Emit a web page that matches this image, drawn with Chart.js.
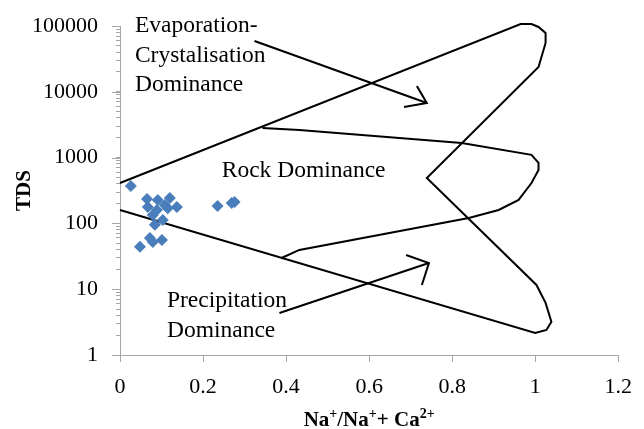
<!DOCTYPE html>
<html lang="en">
<head>
  <meta charset="UTF-8" />
  <title>Gibbs diagram - TDS vs Na/(Na+Ca)</title>
  <script src="https://cdn.jsdelivr.net/npm/chart.js@4/dist/chart.umd.min.js"></script>
  <style>
    body { margin: 0; background: #fff; }
    .chart-box { width: 644px; height: 429px; position: relative; }
  </style>
</head>
<body>
  <div class="chart-box">
    <canvas id="gibbsChart"></canvas>
  </div>

  <script>
    // sample values
    const ratio = [0.026, 0.065, 0.091, 0.120, 0.137, 0.067, 0.089, 0.079, 0.103, 0.084, 0.108, 0.115, 0.048, 0.072, 0.079, 0.101, 0.235, 0.269, 0.276];
    const tds   = [370, 235, 227, 243, 178, 178, 160, 134, 113, 95, 190, 170, 44, 60, 52, 56, 184, 204, 211];

    // Gibbs boundary (outer envelope)
    const outerX = [0, 0.965, 0.991, 1.008, 1.025, 1.025, 1.008, 0.739, 1.003, 1.025, 1.039, 1.027, 1.0, 0];
    const outerY = [411, 107000, 107000, 96600, 78300, 55200, 23800, 490, 11.6, 6.2, 3.2, 2.4, 2.16, 160];

    // rock dominance inner curve
    const innerX = [0.343, 0.432, 0.823, 0.991, 1.008, 1.008, 0.991, 0.960, 0.912, 0.840, 0.432, 0.389];
    const innerY = [2820, 2630, 1670, 1100, 830, 650, 411, 227, 160, 121, 39.5, 29.8];

    // arrows
    const evapShaftX = [0.324, 0.739];
    const evapShaftY = [59200, 6760];
    const evapHeadX = [0.715, 0.739, 0.684];
    const evapHeadY = [12200, 6760, 5870];
    const precShaftX = [0.384, 0.744];
    const precShaftY = [4.35, 25.0];
    const precHeadX = [0.689, 0.744, 0.727];
    const precHeadY = [33.1, 25.0, 11.6];

    // text labels [text, x, y]
    const regionLabels = [
      ['Evaporation-', 0.036, 81000],
      ['Crystalisation', 0.036, 28400],
      ['Dominance', 0.036, 10300],
      ['Rock Dominance', 0.245, 507],
      ['Precipitation', 0.113, 5.36],
      ['Dominance', 0.113, 1.88]
    ];

    // x title pieces: [text, superscript?]
    const xTitleParts = [['Na', false], ['+', true], ['/Na', false], ['+', true], ['+ Ca', false], ['2+', true]];

    const xMin = 0, xMax = 1.2, xStep = 0.2;
    const yMin = 1, yMax = 100000;

    const serif = '"Liberation Serif", "Times New Roman", serif';

    const toPts = (xs, ys) => xs.map((x, i) => ({ x: x, y: ys[i] }));

    const lineSet = (xs, ys) => ({
      data: toPts(xs, ys),
      showLine: true,
      borderColor: '#000',
      borderWidth: 2,
      pointRadius: 0,
      fill: false,
      clip: false
    });

    const textPlugin = {
      id: 'regionText',
      afterDatasetsDraw(chart) {
        const ctx = chart.ctx;
        const xs = chart.scales.x, ys = chart.scales.y;
        ctx.save();
        ctx.fillStyle = '#000';
        ctx.font = '23.5px ' + serif;
        ctx.textAlign = 'left';
        ctx.textBaseline = 'alphabetic';
        regionLabels.forEach(l => {
          ctx.fillText(l[0], xs.getPixelForValue(l[1]), ys.getPixelForValue(l[2]));
        });

        // x axis title with superscripts
        const big = 'bold 21px ' + serif, small = 'bold 14px ' + serif;
        let w = 0;
        xTitleParts.forEach(p => { ctx.font = p[1] ? small : big; w += ctx.measureText(p[0]).width; });
        let px = (chart.chartArea.left + chart.chartArea.right) / 2 - w / 2;
        const base = 426;
        xTitleParts.forEach(p => {
          ctx.font = p[1] ? small : big;
          ctx.fillText(p[0], px, p[1] ? base - 8 : base);
          px += ctx.measureText(p[0]).width;
        });
        ctx.restore();
      }
    };

    // longer marks for the decades on the log axis
    const majorTickPlugin = {
      id: 'majorTicks',
      afterDraw(chart) {
        const ctx = chart.ctx;
        const ys = chart.scales.y;
        ctx.save();
        ctx.strokeStyle = '#a6a6a6';
        ctx.lineWidth = 1;
        for (let v = yMin; v <= yMax; v *= 10) {
          const py = Math.round(ys.getPixelForValue(v)) + 0.5;
          ctx.beginPath();
          ctx.moveTo(ys.right - 8, py);
          ctx.lineTo(ys.right, py);
          ctx.stroke();
        }
        ctx.restore();
      }
    };

    new Chart(document.getElementById('gibbsChart'), {
      type: 'scatter',
      data: {
        datasets: [
          {
            data: toPts(ratio, tds),
            pointStyle: 'rectRot',
            pointRadius: 6,
            pointHoverRadius: 6,
            backgroundColor: '#4a7ebb',
            borderColor: '#4a7ebb',
            borderWidth: 0
          },
          lineSet(outerX, outerY),
          lineSet(innerX, innerY),
          lineSet(evapShaftX, evapShaftY),
          lineSet(evapHeadX, evapHeadY),
          lineSet(precShaftX, precShaftY),
          lineSet(precHeadX, precHeadY)
        ]
      },
      options: {
        responsive: true,
        maintainAspectRatio: false,
        animation: false,
        layout: { padding: { top: 26, right: 25, left: 0, bottom: 0 } },
        plugins: {
          legend: { display: false },
          tooltip: { enabled: false }
        },
        scales: {
          x: {
            type: 'linear',
            min: xMin,
            max: xMax,
            afterFit: s => { s.height = 74; },
            ticks: {
              stepSize: xStep,
              color: '#000',
              font: { family: serif, size: 22 },
              padding: 12,
              callback: v => Number(v.toFixed(1)).toString()
            },
            grid: { drawOnChartArea: false, drawTicks: true, tickLength: 7, color: '#a6a6a6' },
            border: { color: '#a6a6a6' }
          },
          y: {
            type: 'logarithmic',
            min: yMin,
            max: yMax,
            afterFit: s => { s.width = 120; s.paddingTop = 0; s.paddingBottom = 0; },
            afterBuildTicks: s => {
              const t = [];
              for (let d = yMin; d < yMax; d *= 10) {
                for (let m = 1; m < 10; m++) t.push({ value: m * d });
              }
              t.push({ value: yMax });
              s.ticks = t;
            },
            ticks: {
              autoSkip: false,
              color: '#000',
              font: { family: serif, size: 22 },
              padding: 18,
              callback: v => {
                const l = Math.log10(v);
                return Math.abs(l - Math.round(l)) < 1e-9 ? String(v) : '';
              }
            },
            grid: { drawOnChartArea: false, drawTicks: true, tickLength: 4, color: '#a6a6a6' },
            border: { color: '#a6a6a6' },
            title: {
              display: true,
              text: 'TDS',
              color: '#000',
              font: { family: serif, size: 21, weight: 'bold' },
              padding: { top: 12, bottom: 0 }
            }
          }
        }
      },
      plugins: [textPlugin, majorTickPlugin]
    });
  </script>
</body>
</html>
